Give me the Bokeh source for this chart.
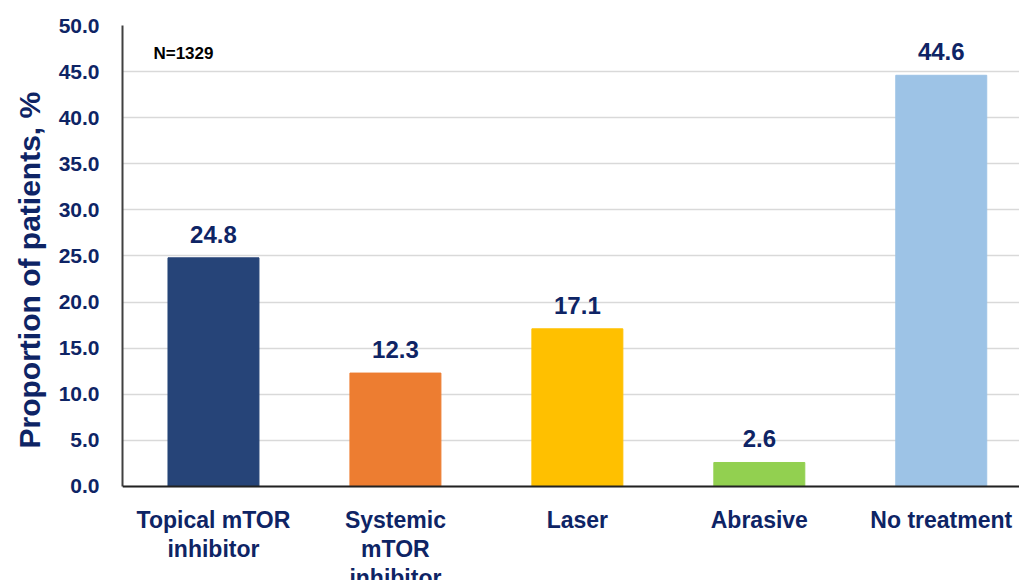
from bokeh.plotting import figure
from bokeh.models import ColumnDataSource, Range1d, FixedTicker, Label, NumeralTickFormatter, Span, Title
from bokeh.embed import file_html
from bokeh.resources import INLINE
from bokeh.core.properties import value

categories = ["Topical mTOR\ninhibitor", "Systemic\nmTOR\ninhibitor", "Laser", "Abrasive", "No treatment"]
values = [24.8, 12.3, 17.1, 2.6, 44.6]
colors = ["#264478", "#ED7D31", "#FFC000", "#92D050", "#9DC3E6"]
y_ticks = [0, 5, 10, 15, 20, 25, 30, 35, 40, 45, 50]
y_title = "Proportion of patients,  %"
note = "N=1329"

NAVY = "#0E2465"
FONT = "Liberation Sans"

xs = list(range(len(categories)))
src = ColumnDataSource(dict(x=xs, top=values, color=colors,
                            label=[f"{v:.1f}" for v in values],
                            cat=categories, ycat=[-2.2] * len(categories)))

# frame spans from y=25px to bottom of canvas; ~9.22 px per unit
p = figure(width=1019, height=580, output_backend="svg", toolbar_location=None,
           x_range=Range1d(-0.5, 4.43), y_range=Range1d(-10.2, 50),
           min_border_left=122, min_border_right=0, min_border_top=25, min_border_bottom=0)
p.outline_line_color = None
p.background_fill_color = "white"
p.border_fill_color = "white"
p.xaxis.visible = False

p.vbar(x="x", top="top", width=0.5, color="color", source=src)
p.text(x="x", y="top", text="label", source=src, text_align="center", text_baseline="bottom",
       y_offset=-15, text_font=value(FONT), text_font_style="bold", text_font_size="24px",
       text_color=NAVY)
p.text(x="x", y="ycat", text="cat", source=src, text_align="center", text_baseline="top",
       text_font=value(FONT), text_font_style="bold", text_font_size="23px",
       text_color=NAVY, text_line_height=1.13)

p.add_layout(Span(location=0, dimension="width", line_color="#222222", line_width=2))

p.yaxis.ticker = FixedTicker(ticks=y_ticks)
p.yaxis.bounds = (0, 50)
p.yaxis.formatter = NumeralTickFormatter(format="0.0")
p.yaxis.major_tick_line_color = None
p.yaxis.minor_tick_line_color = None
p.yaxis.axis_line_color = "#404040"
p.yaxis.axis_line_width = 2
p.yaxis.major_label_standoff = 17
p.yaxis.major_label_text_font = FONT
p.yaxis.major_label_text_font_style = "bold"
p.yaxis.major_label_text_font_size = "21px"
p.yaxis.major_label_text_color = NAVY

p.add_layout(Title(text=y_title, align="right", offset=58, text_font=FONT,
                   text_font_style="bold", text_font_size="30px", text_color=NAVY,
                   standoff=20), "left")

p.xgrid.grid_line_color = None
p.ygrid.grid_line_color = "#D9D9D9"
p.ygrid.grid_line_width = 1.5

p.add_layout(Label(x=-0.33, y=46.96, text=note,
                   text_font=FONT, text_font_style="bold", text_font_size="17px",
                   text_color="#000000", text_baseline="middle"))

open("out.html", "w").write(file_html(p, INLINE))
